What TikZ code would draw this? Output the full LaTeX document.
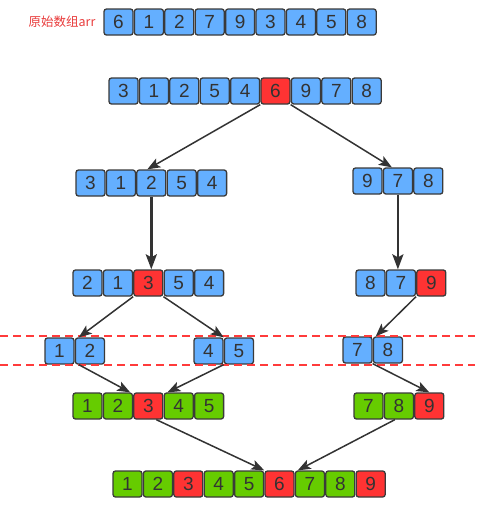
\documentclass[tikz,border=0pt]{standalone}
\usepackage{fontspec}
\setmainfont{Liberation Sans}
\newfontfamily\cjkfont{Noto Sans CJK SC}
\usetikzlibrary{arrows.meta,calc}
\definecolor{cblue}{HTML}{64AFFF}
\definecolor{cred}{HTML}{FF3333}
\definecolor{cgreen}{HTML}{66CC00}
\definecolor{cborder}{HTML}{3A3A3A}
\definecolor{ctext}{HTML}{333333}
\definecolor{carrow}{HTML}{333333}
\definecolor{clabel}{HTML}{E83A3A}
\definecolor{cdash}{HTML}{FF3B3B}
\tikzset{
  cell/.style={draw=cborder, line width=1.3pt, rounded corners=2.5pt,
    minimum width=29pt, minimum height=26pt, inner sep=0pt, text=ctext,
    font=\fontsize{19}{19}\selectfont},
  arr/.style={draw=carrow, line width=1.5pt, -{Stealth[length=13pt,width=10pt,inset=3pt]}},
  varr/.style={arr, line width=2.6pt, -{Stealth[length=15pt,width=11pt,inset=3pt]}},
  dashline/.style={draw=cdash, line width=1.4pt, dash pattern=on 8pt off 5pt},
}
\newcommand\cellrow[4]{%
  \foreach \v/\k [count=\i] in {#4} {
    \node[cell, fill=\k] (#1-\i) at ({#2+(\i-1)*30.4}, #3) {\v};
  }%
}
\begin{document}
\begin{tikzpicture}[x=1pt, y=-1pt]
\useasboundingbox (0,0) rectangle (486,531);
% label
\node[text=clabel, font=\cjkfont\fontsize{12.5}{13}\selectfont, inner sep=0pt] (lbl) at (62,22) {原始数组arr};
% rows
\cellrow{r1}{118.5}{22}{6/cblue,1/cblue,2/cblue,7/cblue,9/cblue,3/cblue,4/cblue,5/cblue,8/cblue}
\cellrow{r2}{123.5}{91}{3/cblue,1/cblue,2/cblue,5/cblue,4/cblue,6/cred,9/cblue,7/cblue,8/cblue}
\cellrow{r3L}{90.5}{183}{3/cblue,1/cblue,2/cblue,5/cblue,4/cblue}
\cellrow{r3R}{367.5}{181}{9/cblue,7/cblue,8/cblue}
\cellrow{r4L}{87.5}{283}{2/cblue,1/cblue,3/cred,5/cblue,4/cblue}
\cellrow{r4R}{370.5}{283}{8/cblue,7/cblue,9/cred}
\cellrow{r5a}{59.5}{351}{1/cblue,2/cblue}
\cellrow{r5b}{208.5}{351}{4/cblue,5/cblue}
\cellrow{r5c}{357.5}{350}{7/cblue,8/cblue}
\cellrow{r6L}{87.5}{406}{1/cgreen,2/cgreen,3/cred,4/cgreen,5/cgreen}
\cellrow{r6R}{368.5}{406}{7/cgreen,8/cgreen,9/cred}
\cellrow{r7}{127.5}{484}{1/cgreen,2/cgreen,3/cred,4/cgreen,5/cgreen,6/cred,7/cgreen,8/cgreen,9/cred}
% dashed lines
\coordinate (d1a) at (0,336); \coordinate (d1b) at (475,336);
\coordinate (d2a) at (0,365); \coordinate (d2b) at (475,365);
\draw[dashline] (d1a) -- (d1b);
\draw[dashline] (d2a) -- (d2b);
% arrows
\draw[arr] (r2-5.south east) -- ($(r3L-3.north)+(-4,0)$);
\draw[arr] (r2-6.south east) -- ($(r3R-2.north)+(-6,0)$);
\draw[varr] (r3L-3.south) -- (r3L-3.south |- r4L-3.north);
\draw[varr] (r3R-2.south) -- (r3R-2.south |- r4R-2.north);
\draw[arr] (r4L-3.south west) -- ($(r5a-2.north west)+(4,0)$);
\draw[arr] (r4L-3.south east) -- (r5b-1.north east);
\draw[arr] (r4R-2.south east) -- ($(r5c-2.north west)+(3,0)$);
\draw[arr] ($(r5a-2.south west)+(4,0)$) -- ($(r6L-3.north west)+(-3,0)$);
\draw[arr] (r5b-1.south east) -- ($(r6L-3.north east)+(4,0)$);
\draw[arr] (r5c-1.south east) -- (r6R-3.north);
\draw[arr] ($(r6L-3.south)+(8,0)$) -- (r7-5.north east);
\draw[arr] ($(r6R-2.south)+(-4,0)$) -- ($(r7-7.north west)+(3,0)$);
\end{tikzpicture}
\end{document}
